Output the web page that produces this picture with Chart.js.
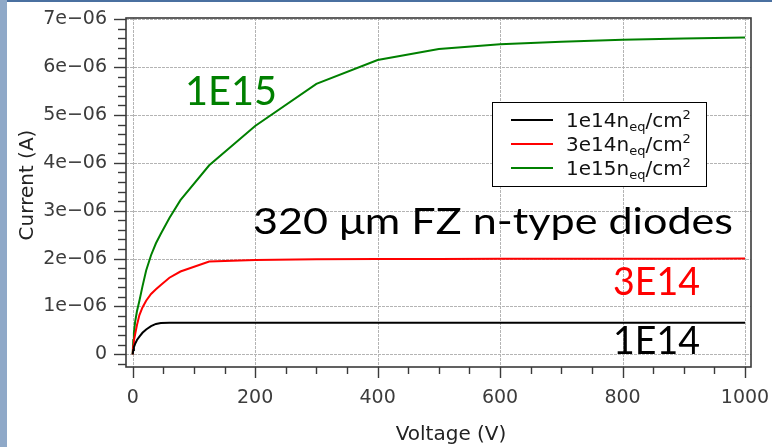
<!DOCTYPE html>
<html>
<head>
<meta charset="utf-8">
<script src="https://cdn.jsdelivr.net/npm/chart.js@4.4.1/dist/chart.umd.min.js"></script>
<style>
  html, body { margin: 0; padding: 0; background: #fff; }
  #wrap { position: relative; width: 772px; height: 447px; overflow: hidden; }
  #c { position: absolute; left: 0; top: 0; }
  #leftbar { position: absolute; left: 0; top: 0; width: 7px; height: 447px; background: #8fa9c8; }
  #topbar { position: absolute; left: 7px; top: 0; width: 765px; height: 2px; background: #4a70a0; }
</style>
</head>
<body>
<div id="wrap">
  <canvas id="c" width="772" height="447"></canvas>
  <div id="leftbar"></div>
  <div id="topbar"></div>
</div>
<script>
// ---- data ----
const VOLTAGE = [0, 1, 2, 4, 7, 11, 16, 22, 30, 38, 46, 60, 78, 125, 200, 300, 400, 500, 600, 700, 800, 900, 1000];
const I_1E14 = [0, 0.09e-6, 0.15e-6, 0.22e-6, 0.30e-6, 0.37e-6, 0.45e-6, 0.52e-6, 0.59e-6, 0.635e-6, 0.655e-6, 0.657e-6, 0.658e-6, 0.659e-6, 0.660e-6, 0.660e-6, 0.660e-6, 0.661e-6, 0.661e-6, 0.661e-6, 0.662e-6, 0.662e-6, 0.662e-6];
const I_3E14 = [0, 0.18e-6, 0.28e-6, 0.42e-6, 0.61e-6, 0.82e-6, 0.98e-6, 1.12e-6, 1.26e-6, 1.36e-6, 1.45e-6, 1.60e-6, 1.73e-6, 1.94e-6, 1.97e-6, 1.985e-6, 1.99e-6, 1.993e-6, 1.995e-6, 1.997e-6, 1.998e-6, 1.999e-6, 2.0e-6];
const I_1E15 = [0, 0.30e-6, 0.45e-6, 0.68e-6, 0.90e-6, 1.12e-6, 1.42e-6, 1.75e-6, 2.07e-6, 2.32e-6, 2.52e-6, 2.85e-6, 3.22e-6, 3.95e-6, 4.77e-6, 5.65e-6, 6.15e-6, 6.38e-6, 6.48e-6, 6.53e-6, 6.57e-6, 6.60e-6, 6.62e-6];
const SERIES_LABELS = ['1e14n_{eq}/cm^{2}', '3e14n_{eq}/cm^{2}', '1e15n_{eq}/cm^{2}'];
const SERIES_COLORS = ['#000000', '#ff0000', '#008000'];
const X_TICKS = [0, 200, 400, 600, 800, 1000];
const X_TICK_LABELS = ['0', '200', '400', '600', '800', '1000'];
const Y_TICKS = [0, 1e-6, 2e-6, 3e-6, 4e-6, 5e-6, 6e-6, 7e-6];
const Y_TICK_LABELS = ['0', '1e\u221206', '2e\u221206', '3e\u221206', '4e\u221206', '5e\u221206', '6e\u221206', '7e\u221206'];
const X_MINOR_STEP = 50;
const Y_MINOR_STEP = 0.2e-6;
const X_TITLE = 'Voltage (V)';
const Y_TITLE = 'Current (A)';
const ANNOTATIONS = [
  { text: '1E15', color: '#008000' },
  { text: '320 \u03bcm FZ n-type diodes', color: '#000000' },
  { text: '3E14', color: '#ff0000' },
  { text: '1E14', color: '#000000' }
];

const SERIES = [I_1E14, I_3E14, I_1E15];
const datasets = SERIES.map((vals, i) => ({
  label: SERIES_LABELS[i],
  data: VOLTAGE.map((v, k) => ({ x: v, y: vals[k] })),
  borderColor: SERIES_COLORS[i],
  backgroundColor: SERIES_COLORS[i],
  borderWidth: 2,
  pointRadius: 0,
  tension: 0,
  fill: false
}));

const AXIS_COLOR = '#3a3a3a';

const framePlugin = {
  id: 'frame',
  beforeDatasetsDraw(chart) {
    const { ctx, chartArea: a, scales } = chart;
    const xs = scales.x, ys = scales.y;
    ctx.save();
    ctx.strokeStyle = '#b4b4b4';
    ctx.lineWidth = 1;
    ctx.setLineDash([3, 1]);
    X_TICKS.forEach(v => {
      const p = Math.round(xs.getPixelForValue(v)) + 0.5;
      ctx.beginPath(); ctx.moveTo(p, a.top); ctx.lineTo(p, a.bottom); ctx.stroke();
    });
    Y_TICKS.forEach(v => {
      const p = Math.round(ys.getPixelForValue(v)) + 0.5;
      ctx.beginPath(); ctx.moveTo(a.left, p); ctx.lineTo(a.right, p); ctx.stroke();
    });
    ctx.restore();
  },
  afterDatasetsDraw(chart) {
    const { ctx, chartArea: a, scales } = chart;
    const xs = scales.x, ys = scales.y;
    ctx.save();
    ctx.strokeStyle = AXIS_COLOR;
    ctx.lineWidth = 1.6;
    ctx.strokeRect(a.left, a.top, a.right - a.left, a.bottom - a.top);
    ctx.lineWidth = 1.4;
    for (let v = 0; v <= xs.max + 1e-9; v += X_MINOR_STEP) {
      const major = X_TICKS.some(t => Math.abs(t - v) < 1e-6);
      const p = Math.round(xs.getPixelForValue(v)) + 0.5;
      ctx.beginPath(); ctx.moveTo(p, a.bottom); ctx.lineTo(p, a.bottom + (major ? 11 : 7)); ctx.stroke();
    }
    const start = Math.ceil(ys.min / Y_MINOR_STEP);
    const end = Math.floor(ys.max / Y_MINOR_STEP + 1e-6);
    for (let k = start; k <= end; k++) {
      const v = k * Y_MINOR_STEP;
      const major = Y_TICKS.some(t => Math.abs(t - v) < 1e-12);
      const p = Math.round(ys.getPixelForValue(v)) + 0.5;
      ctx.beginPath(); ctx.moveTo(a.left, p); ctx.lineTo(a.left - (major ? 12 : 8), p); ctx.stroke();
    }
    ctx.restore();
  },
  afterDraw(chart) {
    const { ctx } = chart;
    ctx.save();
    ctx.fillStyle = '#222';
    ctx.font = '20px "DejaVu Sans"';
    ctx.textAlign = 'center';
    ctx.textBaseline = 'alphabetic';
    ctx.fillText(X_TITLE, 451, 440);
    ctx.save();
    ctx.translate(33, 185);
    ctx.rotate(-Math.PI / 2);
    ctx.fillText(Y_TITLE, 0, 0);
    ctx.restore();

    ctx.textAlign = 'left';
    const pos = [
      { x: 185, y: 105, size: 41, w: 92 },
      { x: 253, y: 234, size: 37, w: 480 },
      { x: 613, y: 295, size: 39, w: 87 },
      { x: 613, y: 354, size: 39, w: 87 }
    ];
    ANNOTATIONS.forEach((an, i) => {
      const p = pos[i];
      ctx.font = p.size + 'px Lato';
      ctx.fillStyle = an.color;
      const mw = ctx.measureText(an.text).width;
      ctx.save();
      ctx.translate(p.x, p.y);
      ctx.scale(p.w / mw, 1);
      ctx.fillText(an.text, 0, 0);
      ctx.restore();
    });

    const box = { l: 492, t: 102, r: 707, b: 187 };
    ctx.fillStyle = '#fff';
    ctx.fillRect(box.l, box.t, box.r - box.l, box.b - box.t);
    ctx.strokeStyle = '#000';
    ctx.lineWidth = 1;
    ctx.strokeRect(box.l + 0.5, box.t + 0.5, box.r - box.l - 1, box.b - box.t - 1);
    const rowsY = [120, 144, 168];
    chart.data.datasets.forEach((ds, i) => {
      const y = rowsY[i];
      ctx.strokeStyle = ds.borderColor;
      ctx.lineWidth = 2;
      ctx.beginPath(); ctx.moveTo(511, y); ctx.lineTo(553, y); ctx.stroke();
      const parts = ds.label.split(/(_\{[^}]*\}|\^\{[^}]*\})/).filter(s => s.length);
      let x = 566;
      const base = y + 7;
      ctx.fillStyle = '#111';
      parts.forEach(pt => {
        let txt = pt, size = 20, dy = 0;
        if (pt.startsWith('_{')) { txt = pt.slice(2, -1); size = 13; dy = 4; }
        else if (pt.startsWith('^{')) { txt = pt.slice(2, -1); size = 13; dy = -8; }
        ctx.font = size + 'px "DejaVu Sans"';
        ctx.fillText(txt, x, base + dy);
        x += ctx.measureText(txt).width;
      });
    });
    ctx.restore();
  }
};

new Chart(document.getElementById('c'), {
  type: 'line',
  data: { datasets },
  options: {
    responsive: false,
    animation: false,
    events: [],
    layout: { padding: { left: 0, top: 18, right: 21, bottom: 0 } },
    plugins: { legend: { display: false }, tooltip: { enabled: false } },
    scales: {
      x: {
        type: 'linear',
        min: -10.9,
        max: 1009.8,
        afterFit(s) { s.height = 80; s.paddingLeft = 0; s.paddingRight = 0; },
        afterBuildTicks(s) { s.ticks = X_TICKS.map(v => ({ value: v })); },
        grid: { display: false, drawTicks: false },
        border: { display: false },
        ticks: {
          font: { family: 'DejaVu Sans', size: 19 },
          color: '#3c3c3c',
          padding: 20,
          maxRotation: 0,
          autoSkip: false,
          callback(v) { const i = X_TICKS.indexOf(v); return i >= 0 ? X_TICK_LABELS[i] : ''; }
        }
      },
      y: {
        type: 'linear',
        min: -0.265e-6,
        max: 7.027e-6,
        afterFit(s) { s.width = 126; s.paddingTop = 0; s.paddingBottom = 0; },
        afterBuildTicks(s) { s.ticks = Y_TICKS.map(v => ({ value: v })); },
        grid: { display: false, drawTicks: false },
        border: { display: false },
        ticks: {
          font: { family: 'DejaVu Sans', size: 19 },
          color: '#3c3c3c',
          padding: 19,
          autoSkip: false,
          callback(v) { const i = Y_TICKS.findIndex(t => Math.abs(t - v) < 1e-12); return i >= 0 ? Y_TICK_LABELS[i] : ''; }
        }
      }
    }
  },
  plugins: [framePlugin]
});
</script>
</body>
</html>
